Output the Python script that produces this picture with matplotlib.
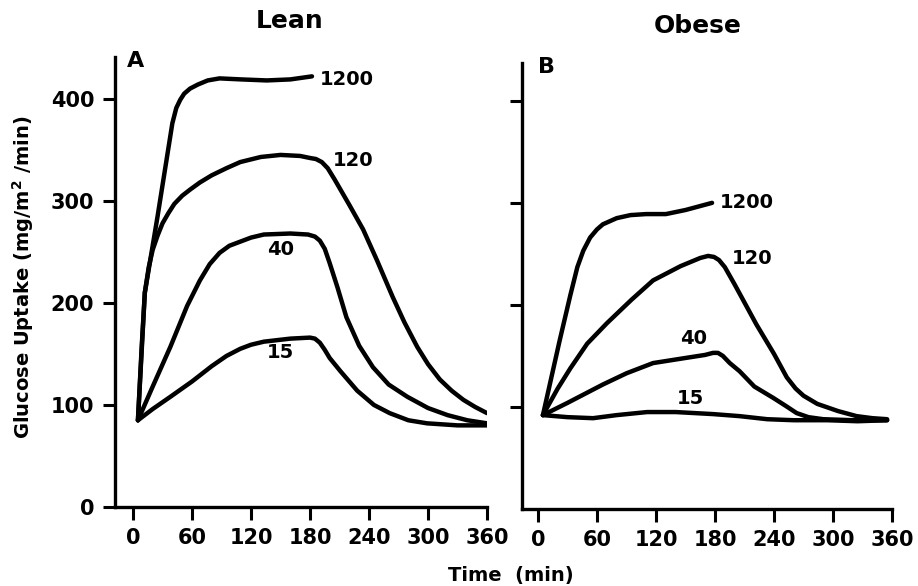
import matplotlib
matplotlib.use('Agg')
import matplotlib.pyplot as plt

# time (min) and glucose uptake (mg/m2/min)
lean_1200_t = [5, 9, 12, 25, 40, 44, 48, 52, 58, 66, 76, 88, 110, 136, 160, 182]
lean_1200_v = [85, 160, 210, 285, 376, 391, 399, 405, 410, 414, 418, 420, 419, 418, 419, 422]

lean_120_t = [5, 12, 16, 20, 25, 30, 36, 42, 50, 58, 68, 80, 95, 109, 130, 150, 170,
              180, 186, 192, 198, 205, 220, 234, 248, 264, 276, 289, 300, 312, 324, 336, 348, 360]
lean_120_v = [85, 210, 235, 252, 266, 278, 288, 297, 305, 311, 318, 325, 332, 338, 343, 345, 344,
              342, 341, 338, 332, 321, 296, 272, 242, 206, 181, 157, 140, 125, 114, 105, 98, 92]

lean_40_t = [5, 20, 38, 55, 68, 78, 88, 98, 109, 120, 133, 160, 178, 185, 190, 195, 200, 208,
             217, 230, 244, 260, 279, 300, 320, 340, 360]
lean_40_v = [85, 118, 157, 197, 222, 238, 249, 256, 260, 264, 267, 268, 267, 265, 261, 253, 239, 215,
             186, 158, 137, 120, 108, 97, 90, 85, 82]

lean_15_t = [5, 20, 38, 60, 80, 95, 109, 120, 133, 160, 180, 185, 190, 195, 200, 211, 228, 245,
             261, 280, 299, 330, 360]
lean_15_v = [85, 96, 108, 123, 138, 148, 155, 159, 162, 165, 166, 165, 161, 154, 146, 133, 114, 100,
             92, 85, 82, 80, 80]

obese_1200_t = [5, 22, 33, 40, 46, 53, 60, 66, 73, 80, 94, 110, 130, 150, 177]
obese_1200_v = [92, 165, 210, 237, 253, 266, 274, 279, 282, 285, 288, 289, 289, 293, 300]

obese_120_t = [5, 20, 33, 50, 70, 95, 117, 145, 165, 173, 179, 184, 190, 200, 222, 240, 253,
               262, 270, 284, 305, 324, 340, 355]
obese_120_v = [92, 118, 138, 162, 182, 205, 224, 238, 246, 248, 247, 244, 237, 220, 181, 152, 129,
               118, 111, 103, 96, 91, 89, 88]

obese_40_t = [5, 30, 66, 90, 117, 150, 170, 178, 183, 188, 195, 205, 220, 239, 252, 263, 275,
              290, 320, 355]
obese_40_v = [92, 104, 122, 133, 143, 148, 151, 153, 153, 150, 143, 135, 120, 109, 101, 94, 90,
              88, 87, 87]

obese_15_t = [5, 30, 56, 80, 111, 140, 178, 205, 233, 260, 294, 325, 355]
obese_15_v = [92, 90, 89, 92, 95, 95, 93, 91, 88, 87, 87, 86, 87]

x_ticks = [0, 60, 120, 180, 240, 300, 360]
y_ticks = [0, 100, 200, 300, 400]

plt.rcParams['font.family'] = ['DejaVu Sans']
plt.rcParams['font.weight'] = 'bold'

fig = plt.figure(figsize=(9.18, 5.86), dpi=100)
axA = fig.add_axes([0.1253, 0.1348, 0.4052, 0.768])
axB = fig.add_axes([0.5686, 0.1314, 0.4031, 0.761])

def style(ax, ytop, xleft, show_ylabels):
    ax.set_xlim(xleft, 360)
    ax.set_ylim(0, ytop)
    ax.spines['top'].set_visible(False)
    ax.spines['right'].set_visible(False)
    ax.spines['left'].set_linewidth(2.4)
    ax.spines['bottom'].set_linewidth(2.4)
    ax.spines['bottom'].set_bounds(xleft, 360)
    ax.set_xticks(x_ticks)
    ax.set_xticklabels([str(t) for t in x_ticks])
    if show_ylabels:
        ax.set_yticks(y_ticks)
        ax.set_yticklabels([str(v) for v in y_ticks])
    else:
        ax.set_yticks(y_ticks[1:])
        ax.set_yticklabels([])
    ax.tick_params(direction='out', length=9, width=2.2, labelsize=15, pad=6)

style(axA, 441, -18.3, True)
style(axB, 437, -16.3, False)

lw = 3.2
for t, v in [(lean_1200_t, lean_1200_v), (lean_120_t, lean_120_v),
             (lean_40_t, lean_40_v), (lean_15_t, lean_15_v)]:
    axA.plot(t, v, color='black', lw=lw, solid_joinstyle='round', solid_capstyle='round')
for t, v in [(obese_1200_t, obese_1200_v), (obese_120_t, obese_120_v),
             (obese_40_t, obese_40_v), (obese_15_t, obese_15_v)]:
    axB.plot(t, v, color='black', lw=lw, solid_joinstyle='round', solid_capstyle='round')

# curve labels (insulin doses)
axA.text(190, 419, '1200', fontsize=14, ha='left', va='center')
axA.text(203, 340, '120', fontsize=14, ha='left', va='center')
axA.text(150, 252, '40', fontsize=14, ha='center', va='center')
axA.text(150, 151, '15', fontsize=14, ha='center', va='center')

axB.text(185, 300, '1200', fontsize=14, ha='left', va='center')
axB.text(197, 245, '120', fontsize=14, ha='left', va='center')
axB.text(158, 167, '40', fontsize=14, ha='center', va='center')
axB.text(155, 108, '15', fontsize=14, ha='center', va='center')

fig.text(0.148, 0.896, 'A', fontsize=16, ha='center', va='center')
fig.text(0.595, 0.886, 'B', fontsize=16, ha='center', va='center')
fig.text(0.316, 0.964, 'Lean', fontsize=18, ha='center', va='center')
fig.text(0.760, 0.956, 'Obese', fontsize=18, ha='center', va='center')
fig.text(0.025, 0.526, 'Glucose Uptake (mg/m$^2$ /min)', fontsize=14,
         rotation=90, ha='center', va='center')
fig.text(0.556, 0.018, 'Time  (min)', fontsize=14, ha='center', va='center')

fig.savefig('out.png', dpi=100)
